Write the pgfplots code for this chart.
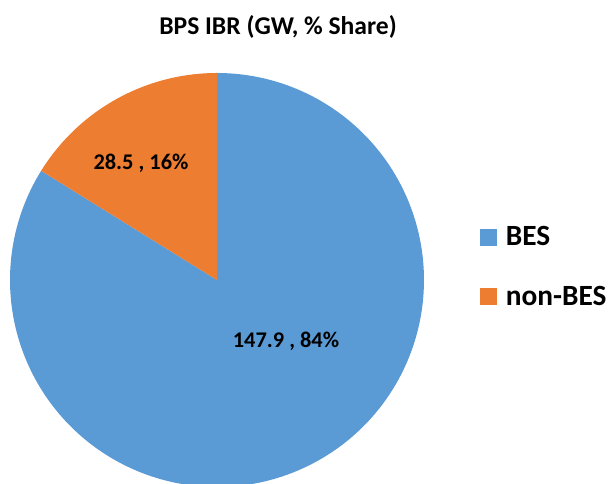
\documentclass[border=0pt]{standalone}
\usepackage{pgfplots}
\pgfplotsset{compat=1.18}
\usepgfplotslibrary{polar}
\usepackage{fontspec}
\setmainfont{Carlito}
\definecolor{bes}{HTML}{5B9BD5}
\definecolor{nonbes}{HTML}{ED7D31}
\def\vBES{147.9}
\def\vNON{28.5}
\begin{document}
\begin{tikzpicture}
\useasboundingbox (0pt,0pt) rectangle (457.5pt,363pt);
\pgfmathsetmacro{\tot}{\vBES+\vNON}
\pgfmathsetmacro{\aNON}{90+360*\vNON/\tot}
\node[font=\bfseries\fontsize{19.2}{23}\selectfont, inner sep=0pt] at (208.5pt,342.75pt) {BPS IBR (GW, \% Share)};
\begin{polaraxis}[
  at={(162.75pt,153pt)}, anchor=center,
  scale only axis, width=310.5pt, height=310.5pt,
  hide axis, clip=false,
  ymin=0, ymax=1, xmin=0, xmax=360,
  legend style={at={(1.135,0.630)}, anchor=north west, draw=none, fill=none,
    inner sep=0pt, row sep=29pt, column sep=6.5pt,
    font=\bfseries\fontsize{22}{26}\selectfont,
    nodes={inner sep=0pt, anchor=west}},
  legend cell align=left,
  legend image code/.code={\fill[#1] (0pt,-6.4pt) rectangle (12.75pt,6.4pt);},
]
\addplot[fill=bes, draw=none, domain=\aNON:450, samples=240] {1} -- (axis cs:0,0) -- cycle;
\addlegendentry{BES}
\addplot[fill=nonbes, draw=none, domain=90:\aNON, samples=60] {1} -- (axis cs:0,0) -- cycle;
\addlegendentry{non-BES}
\node[font=\bfseries\fontsize{16.8}{20}\selectfont] at (axis cs:123,0.674) {28.5 , 16\%};
\node[font=\bfseries\fontsize{16.8}{20}\selectfont] at (axis cs:-41.5,0.445) {147.9 , 84\%};
\end{polaraxis}
\end{tikzpicture}
\end{document}
